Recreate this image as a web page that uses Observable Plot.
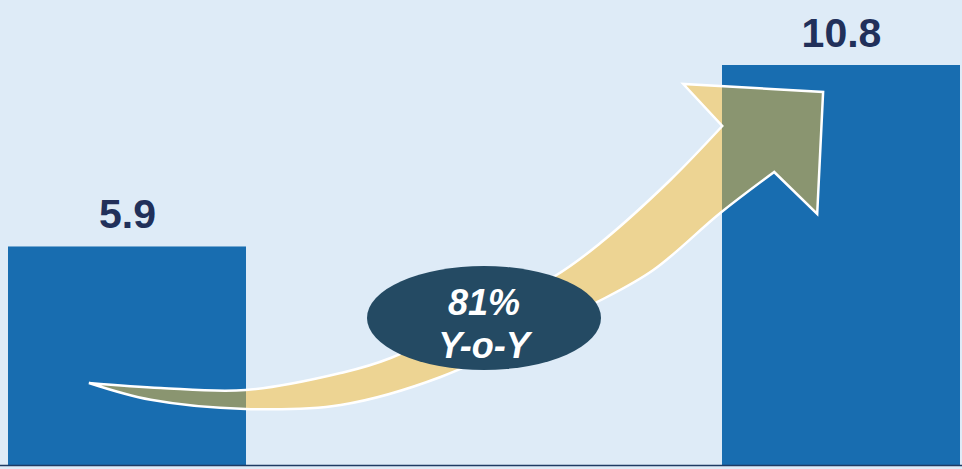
<!DOCTYPE html>
<html>
<head>
<meta charset="utf-8">
<script src="https://cdn.jsdelivr.net/npm/d3@7"></script>
<script src="https://cdn.jsdelivr.net/npm/@observablehq/plot@0.6"></script>
<style>
  html, body { margin: 0; padding: 0; background: #deebf7; }
  #chart svg { display: block; }
</style>
</head>
<body>
<div id="chart"></div>
<script>
// ---- data ----
const categories = ["Period 1", "Period 2"];
const values = [5.9, 10.8];
const valueLabels = ["5.9", "10.8"];
const growthLabel = "81%\nY-o-Y";

const data = categories.map((c, i) => ({category: c, value: values[i], label: valueLabels[i]}));

// ---- annotation geometry: [u, v] where u = fraction of span from first bar's left edge
// to second bar's right edge, v = value on the y scale ----
const arrowUpper = [
  [0.085, 2.214], [0.1605, 2.079], [0.2497, 2.025], [0.3494, 2.484], [0.4019, 2.889],
  [0.5729, 5.076], [0.6222, 5.994], [0.6957, 7.695], [0.7503, 9.153]
];
const arrowHead = [[0.7093, 10.287], [0.8562, 10.071], [0.850, 6.777]];
const arrowLower = [
  [0.8048, 7.911], [0.7482, 6.804], [0.6779, 5.265], [0.617, 4.374], [0.4544, 2.376],
  [0.3494, 1.62], [0.2497, 1.512], [0.150, 1.76], [0.085, 2.214]
];
const bubbleU = 0.5, bubbleV = 3.97;

function annotation(index, scales, vals, dimensions) {
  const sx = scales.x, sy = scales.y;
  const bw = typeof sx.bandwidth === "function" ? sx.bandwidth() : scales.scales.x.bandwidth;
  const left = sx(categories[0]), right = sx(categories[1]) + bw;
  const px = u => left + u * (right - left);
  const pt = ([u, v]) => [px(u), sy(v)];
  const curve = d3.line().curve(d3.curveCatmullRom.alpha(0.5));
  const up = curve(arrowUpper.map(pt));
  const low = curve(arrowLower.map(pt));
  const head = arrowHead.map(pt).map(p => "L" + p[0] + "," + p[1]).join("");
  const d = up + head + low.replace(/^M/, "L") + "Z";
  const g = d3.create("svg:g");
  g.append("path")
    .attr("d", d)
    .attr("fill", "rgb(252,190,48)")
    .attr("fill-opacity", 0.5)
    .attr("stroke", "#ffffff")
    .attr("stroke-width", 2.5)
    .attr("stroke-linejoin", "miter");
  g.append("ellipse")
    .attr("cx", px(bubbleU))
    .attr("cy", sy(bubbleV))
    .attr("rx", 117)
    .attr("ry", 52)
    .attr("fill", "#244a63");
  return g.node();
}

const font = "'Liberation Sans', Arial, Helvetica, sans-serif";

const chart = Plot.plot({
  width: 962,
  height: 469,
  marginTop: 0,
  marginBottom: 4,
  marginLeft: 7,
  marginRight: 2,
  style: {background: "#deebf7", overflow: "visible", fontFamily: font},
  x: {domain: categories, paddingInner: 0.667, paddingOuter: 0, axis: null},
  y: {domain: [0, 12.555], axis: null},
  marks: [
    Plot.barY(data, {x: "category", y: "value", fill: "#186db0"}),
    Plot.text(data, {
      x: "category", y: "value", text: "label",
      dy: -19, lineAnchor: "bottom",
      fontSize: 41, fontWeight: "bold", fill: "#21305a", fontFamily: font
    }),
    Plot.ruleY([0], {stroke: "#1f3b63", strokeWidth: 1.5, insetLeft: -7, insetRight: -2}),
    annotation,
    Plot.text([growthLabel], {
      y: [bubbleV], text: d => d,
      dy: 4, lineAnchor: "middle", lineHeight: 1.2,
      fontSize: 36, fontWeight: "bold", fontStyle: "italic", fill: "#ffffff", fontFamily: font
    })
  ]
});

document.getElementById("chart").appendChild(chart);
</script>
</body>
</html>
